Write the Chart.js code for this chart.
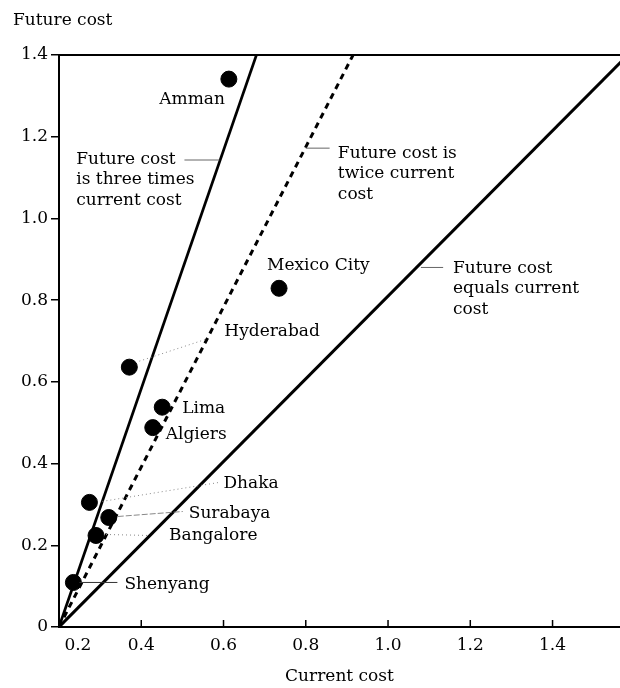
<!DOCTYPE html>
<html>
<head>
<meta charset="utf-8">
<script src="https://cdn.jsdelivr.net/npm/chart.js@4.4.1/dist/chart.umd.min.js"></script>
<style>
body { margin: 0; background: #fff; }
canvas { display: block; }
</style>
</head>
<body>
<canvas id="ChartHolder" width="620" height="688"></canvas>
<script>
// city values
var cities = ['Amman', 'Mexico City', 'Hyderabad', 'Lima', 'Algiers', 'Dhaka', 'Surabaya', 'Bangalore', 'Shenyang'];
var currentCost = [0.613, 0.735, 0.371, 0.451, 0.428, 0.274, 0.321, 0.290, 0.235];
var futureCost = [1.341, 0.829, 0.636, 0.538, 0.488, 0.305, 0.268, 0.224, 0.109];

var xTicks = [0.2, 0.4, 0.6, 0.8, 1.0, 1.2, 1.4];
var yTicks = [0, 0.2, 0.4, 0.6, 0.8, 1.0, 1.2, 1.4];

// reference lines, end points as drawn
var threeTimesLine = [[0.2, 0], [0.68, 1.4]];
var twiceLine = [[0.2, 0], [0.915, 1.4]];
var equalsLine = [[0.2, 0], [1.583, 1.4]];

var FONT = '17px "DejaVu Serif"';

// where the city names sit, pixel offsets from each dot
var labelPlace = {
    'Amman': { dx: -4, dy: 20, align: 'right' },
    'Mexico City': { dx: -12, dy: -23 },
    'Hyderabad': { dx: 95, dy: -36, leader: [10, -6, 77, -28], dash: [1, 3] },
    'Lima': { dx: 20, dy: 1 },
    'Algiers': { dx: 13, dy: 7 },
    'Dhaka': { dx: 134, dy: -19, leader: [13, -1, 130, -20], dash: [1, 3] },
    'Surabaya': { dx: 80, dy: -4, leader: [9, -1, 74, -6], dash: [6, 2] },
    'Bangalore': { dx: 73, dy: 0, leader: [10, -1, 53, 0], dash: [1, 3] },
    'Shenyang': { dx: 51, dy: 2, leader: [6, 0, 44, 0], dash: [] }
};

// notes next to the reference lines (data coords)
var lineNotes = [
    { text: ['Future cost', 'is three times', 'current cost'], x: 0.242, y: 1.145, leader: [0.505, 1.143, 0.59, 1.143] },
    { text: ['Future cost is', 'twice current', 'cost'], x: 0.878, y: 1.159, leader: [0.80, 1.172, 0.858, 1.172] },
    { text: ['Future cost', 'equals current', 'cost'], x: 1.158, y: 0.878, leader: [1.08, 0.880, 1.134, 0.880] }
];

function toPoints(pairs) {
    return pairs.map(function (p) { return { x: p[0], y: p[1] }; });
}

var cityPoints = currentCost.map(function (v, i) {
    return { x: v, y: futureCost[i] };
});

var annotate = {
    id: 'annotate',
    afterDatasetsDraw: function (chart) {
        var ctx = chart.ctx;
        var xs = chart.scales.x;
        var ys = chart.scales.y;
        var area = chart.chartArea;
        ctx.save();

        // top frame line
        ctx.strokeStyle = '#000';
        ctx.lineWidth = 2;
        ctx.beginPath();
        ctx.moveTo(area.left - 1, area.top);
        ctx.lineTo(area.right, area.top);
        ctx.stroke();

        // x ticks point inward
        ctx.lineWidth = 1.5;
        xs.ticks.forEach(function (t) {
            var px = xs.getPixelForValue(t.value);
            ctx.beginPath();
            ctx.moveTo(px, area.bottom);
            ctx.lineTo(px, area.bottom - 7);
            ctx.stroke();
        });

        ctx.font = FONT;
        ctx.fillStyle = '#000';
        ctx.textBaseline = 'middle';

        // axis title on top
        ctx.textAlign = 'left';
        ctx.fillText('Future cost', 13, 21);

        // city names
        cities.forEach(function (name, i) {
            var place = labelPlace[name];
            var px = xs.getPixelForValue(currentCost[i]);
            var py = ys.getPixelForValue(futureCost[i]);
            if (place.leader) {
                ctx.save();
                ctx.strokeStyle = place.dash.length ? '#888' : '#333';
                ctx.lineWidth = 1;
                ctx.setLineDash(place.dash);
                ctx.beginPath();
                ctx.moveTo(px + place.leader[0], py + place.leader[1]);
                ctx.lineTo(px + place.leader[2], py + place.leader[3]);
                ctx.stroke();
                ctx.restore();
            }
            ctx.textAlign = place.align || 'left';
            ctx.fillText(name, px + place.dx, py + place.dy);
        });

        // notes for the lines
        lineNotes.forEach(function (note) {
            ctx.strokeStyle = '#666';
            ctx.lineWidth = 1;
            ctx.beginPath();
            ctx.moveTo(xs.getPixelForValue(note.leader[0]), ys.getPixelForValue(note.leader[1]));
            ctx.lineTo(xs.getPixelForValue(note.leader[2]), ys.getPixelForValue(note.leader[3]));
            ctx.stroke();
            ctx.textAlign = 'left';
            var tx = xs.getPixelForValue(note.x);
            var ty = ys.getPixelForValue(note.y);
            note.text.forEach(function (line, k) {
                ctx.fillText(line, tx, ty + k * 20.5);
            });
        });

        ctx.restore();
    }
};

var ScatterData = {
    datasets: [{
        label: 'Cities',
        data: cityPoints,
        backgroundColor: '#000',
        borderColor: '#000',
        pointRadius: 8,
        pointHoverRadius: 8,
        showLine: false
    }, {
        label: 'Three times',
        data: toPoints(threeTimesLine),
        borderColor: '#000',
        borderWidth: 2.7,
        pointRadius: 0,
        showLine: true
    }, {
        label: 'Twice',
        data: toPoints(twiceLine),
        borderColor: '#000',
        borderWidth: 3,
        borderDash: [6, 5],
        pointRadius: 0,
        showLine: true
    }, {
        label: 'Equals',
        data: toPoints(equalsLine),
        borderColor: '#000',
        borderWidth: 3,
        pointRadius: 0,
        showLine: true
    }]
};

var chartConfig = {
    type: 'scatter',
    data: ScatterData,
    plugins: [annotate],
    options: {
        responsive: false,
        animation: false,
        layout: { autoPadding: false, padding: { top: 55, left: 0, right: 0, bottom: 0 } },
        plugins: {
            legend: { display: false },
            tooltip: { enabled: false }
        },
        scales: {
            x: {
                type: 'linear',
                position: 'bottom',
                min: 0.2,
                max: 1.564,
                afterBuildTicks: function (scale) {
                    scale.ticks = xTicks.map(function (v) { return { value: v }; });
                },
                afterFit: function (scale) { scale.height = 61; },
                grid: { display: false, drawTicks: false },
                border: { display: true, color: '#000', width: 2 },
                ticks: {
                    padding: 8,
                    color: '#000',
                    font: { family: 'DejaVu Serif', size: 17 },
                    maxRotation: 0,
                    autoSkip: false,
                    callback: function (v) {
                        // first label sits right of the corner
                        return v === 0.2 ? '       0.2' : v.toFixed(1);
                    }
                },
                title: {
                    display: true,
                    text: 'Current cost',
                    color: '#000',
                    font: { family: 'DejaVu Serif', size: 17 },
                    padding: { top: 0, bottom: 1 }
                }
            },
            y: {
                type: 'linear',
                min: 0,
                max: 1.4,
                afterBuildTicks: function (scale) {
                    scale.ticks = yTicks.map(function (v) { return { value: v }; });
                },
                afterFit: function (scale) { scale.width = 59; },
                grid: { display: true, drawOnChartArea: false, drawTicks: true, tickLength: 8, color: '#000', lineWidth: 1.5 },
                border: { display: true, color: '#000', width: 2 },
                ticks: {
                    padding: 3,
                    color: '#000',
                    font: { family: 'DejaVu Serif', size: 17 },
                    callback: function (v) {
                        return v === 0 ? '0' : v.toFixed(1);
                    }
                }
            }
        }
    }
};

var currentChart = new Chart(document.getElementById('ChartHolder'), chartConfig);
</script>
</body>
</html>
